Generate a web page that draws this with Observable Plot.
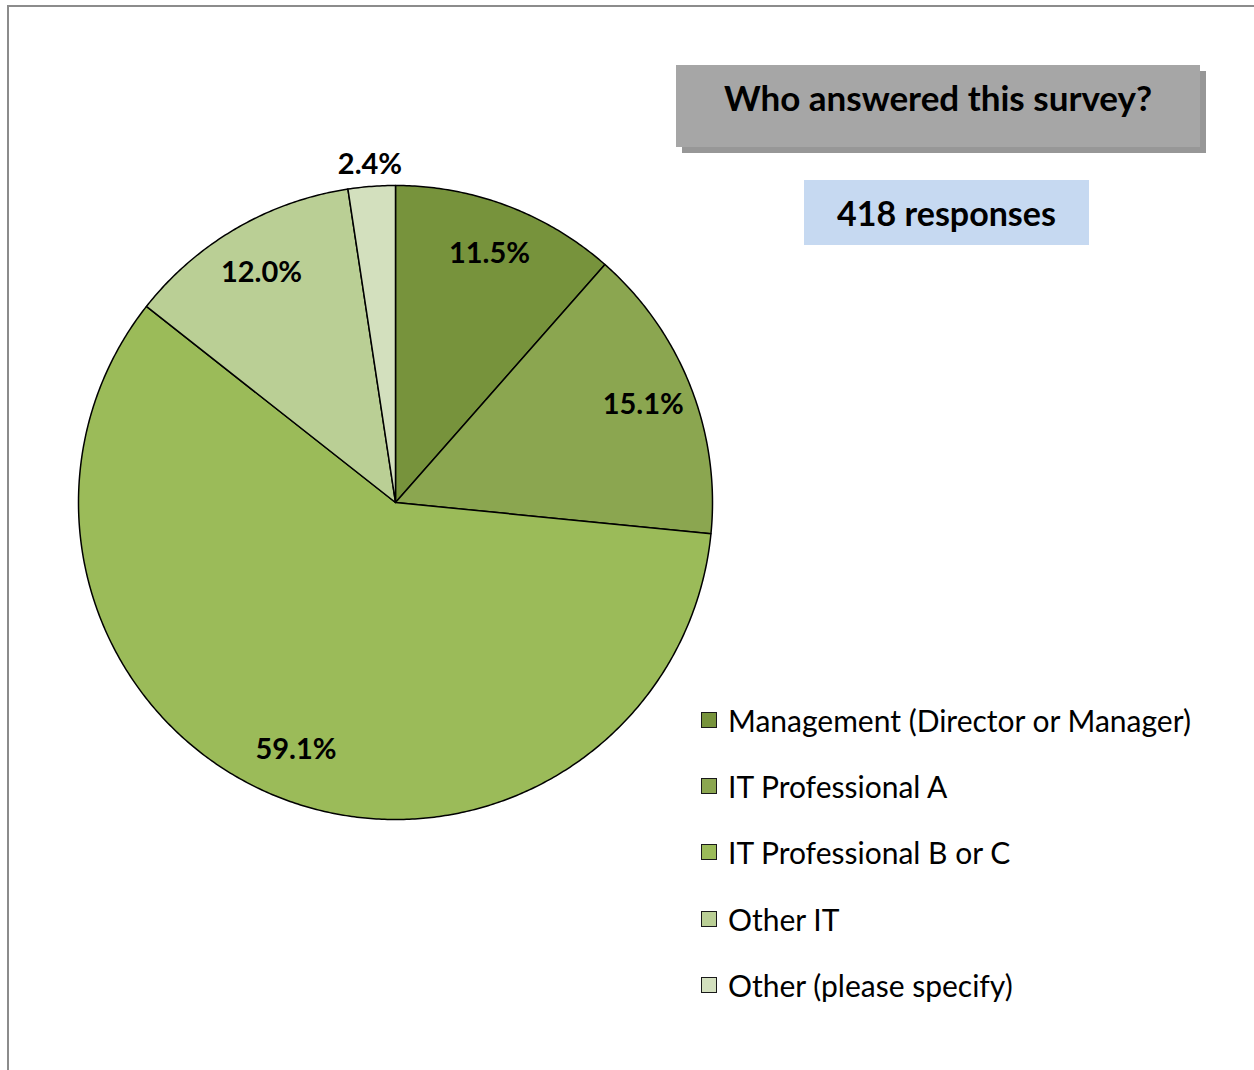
<!DOCTYPE html>
<html>
<head>
<meta charset="utf-8">
<script src="https://cdn.jsdelivr.net/npm/d3@7"></script>
<script src="https://cdn.jsdelivr.net/npm/@observablehq/plot@0.6"></script>
<style>
  html, body { margin: 0; padding: 0; background: #fff; }
  #page { position: relative; width: 1254px; height: 1070px; overflow: hidden; font-family: Lato, "Open Sans", sans-serif; }
  #frame { position: absolute; left: 7px; top: 5px; width: 1260px; height: 1080px; border-top: 2px solid #8c8c8c; border-left: 2px solid #8c8c8c; }
  #chart { position: absolute; left: 0; top: 0; }
  #title { position: absolute; left: 676px; top: 65px; width: 524px; height: 82px; background: #a6a6a6; box-shadow: 6px 6px 0 #979797; text-align: center; font-weight: bold; font-size: 35px; line-height: 64px; color: #000; }
  #count { position: absolute; left: 804px; top: 180px; width: 285px; height: 65px; background: #c6d9f1; text-align: center; font-weight: bold; font-size: 34px; line-height: 66px; color: #000; }
  #legend { position: absolute; left: 701px; top: 700px; }
  .item { position: absolute; left: 0; height: 40px; display: flex; align-items: center; white-space: nowrap; font-size: 30px; color: #000; }
  .sw { width: 16px; height: 16px; border: 1.5px solid #1a1a1a; margin-right: 11px; box-sizing: border-box; flex: none; }
</style>
</head>
<body>
<div id="page">
  <div id="frame"></div>
  <div id="chart"></div>
  <div id="title">Who answered this survey?</div>
  <div id="count">418 responses</div>
  <div id="legend"></div>
</div>
<script>
// ---- data ----
const categories = ["Management (Director or Manager)", "IT Professional A", "IT Professional B or C", "Other IT", "Other (please specify)"];
const shares = [11.5, 15.1, 59.1, 12.0, 2.4];
const colors = ["#77933c", "#8ba650", "#9bbb59", "#bacf95", "#d3e0be"];
const labels = ["11.5%", "15.1%", "59.1%", "12.0%", "2.4%"];

// ---- geometry from data via d3.pie ----
const pie = d3.pie().sort(null).value(d => d.v).startAngle(0).endAngle(2 * Math.PI);
const arcs = pie(categories.map((c, i) => ({ c, v: shares[i], label: labels[i] })));

const pts = [];
for (const a of arcs) {
  const key = a.data.c;
  pts.push({ key, x: 0, y: 0 });
  const n = Math.max(2, Math.ceil((a.endAngle - a.startAngle) / (Math.PI / 360)));
  for (let k = 0; k <= n; k++) {
    const t = a.startAngle + (a.endAngle - a.startAngle) * k / n;
    pts.push({ key, x: Math.sin(t), y: Math.cos(t) });
  }
  pts.push({ key, x: 0, y: 0 });
}

const labelPts = arcs.map(a => {
  const m = (a.startAngle + a.endAngle) / 2;
  const r = a.data.v < 5 ? 1.07 : 0.84;
  return { x: r * Math.sin(m), y: r * Math.cos(m), text: a.data.label };
});

const R = 317, cx = 395, cy = 502;
const W = 720, H = 1070;
const plot = Plot.plot({
  width: W,
  height: H,
  marginLeft: cx - R,
  marginRight: W - (cx + R),
  marginTop: cy - R,
  marginBottom: H - (cy + R),
  x: { domain: [-1, 1], axis: null },
  y: { domain: [-1, 1], axis: null },
  color: { domain: categories, range: colors },
  style: { background: "transparent", fontFamily: "Lato, 'Open Sans', sans-serif" },
  marks: [
    Plot.line(pts, { x: "x", y: "y", z: "key", fill: "key", stroke: "#000", strokeWidth: 1.5, strokeLinejoin: "round" }),
    Plot.text(labelPts, { x: "x", y: "y", text: "text", fontSize: 29, fontWeight: "bold", fill: "#000" })
  ]
});
document.getElementById("chart").appendChild(plot);

// ---- legend ----
const lg = document.getElementById("legend");
categories.forEach((c, i) => {
  const row = document.createElement("div");
  row.className = "item";
  row.style.top = (i * 66.2) + "px";
  const sw = document.createElement("div");
  sw.className = "sw";
  sw.style.background = colors[i];
  const tx = document.createElement("span");
  tx.textContent = c;
  row.appendChild(sw);
  row.appendChild(tx);
  lg.appendChild(row);
});
</script>
</body>
</html>
